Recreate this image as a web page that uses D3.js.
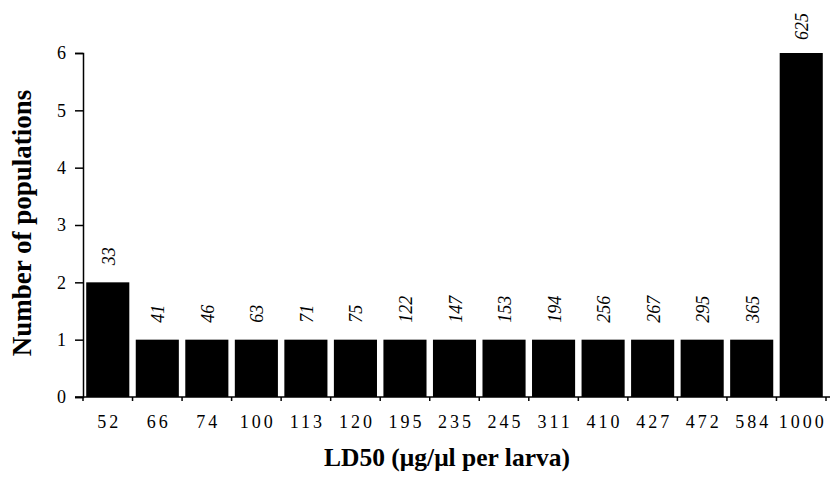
<!DOCTYPE html>
<html><head><meta charset="utf-8">
<script src="https://cdn.jsdelivr.net/npm/d3@7"></script>
<style>
body{margin:0;background:#fff;}
text{font-family:"Liberation Serif","Times New Roman",serif;fill:#000;}
</style></head>
<body><svg id="c" width="831" height="484"></svg>
<script>
const categories = ["52","66","74","100","113","120","195","235","245","311","410","427","472","584","1000"];
const counts = [2,1,1,1,1,1,1,1,1,1,1,1,1,1,6];
const barLabels = ["33","41","46","63","71","75","122","147","153","194","256","267","295","365","625"];
const yTicks = [0,1,2,3,4,5,6];

(function(){
const svg = d3.select("#c");
const mLeft = 83, mRight = 826, mTop = 53, mBottom = 397;
const x = d3.scaleBand().domain(categories).range([mLeft, mRight]).paddingInner(0.13).paddingOuter(0.065);
const y = d3.scaleLinear().domain([0,6]).range([mBottom, mTop]);

// bars
svg.selectAll("rect.bar").data(categories).enter().append("rect")
  .attr("x", d => x(d)).attr("width", x.bandwidth())
  .attr("y", (d,i) => y(counts[i])).attr("height", (d,i) => y(0) - y(counts[i]))
  .attr("fill", "#000");

// bar labels (rotated italic)
svg.selectAll("text.bl").data(categories).enter().append("text")
  .attr("transform", (d,i) => `translate(${x(d) + x.bandwidth()/2 + 7},${y(counts[i]) - (i===14 ? 13 : 17)}) rotate(-90)`)
  .attr("font-style", "italic").attr("font-size", 18)
  .text((d,i) => barLabels[i]);

// y axis
const yAxis = svg.append("g").attr("transform", `translate(${mLeft},0)`)
  .call(d3.axisLeft(y).tickValues(yTicks).tickFormat(d3.format("d")).tickSize(8).tickPadding(9));
yAxis.selectAll("text").attr("font-size", 18).style("font-family", '"Liberation Serif",serif');
yAxis.select(".domain").attr("stroke-width", 1.5);
yAxis.selectAll(".tick line").attr("stroke-width", 1.5);

// x axis
const edges = categories.map(c => x(c) - x.step()*x.paddingInner()/2).concat([mRight]);
svg.append("line").attr("x1", mLeft - 8).attr("x2", 830).attr("y1", y(0)).attr("y2", y(0))
  .attr("stroke", "#000").attr("stroke-width", 1.5);
svg.selectAll("line.xt").data(edges).enter().append("line")
  .attr("x1", d => d).attr("x2", d => d).attr("y1", y(0)).attr("y2", y(0) + 4)
  .attr("stroke", "#000").attr("stroke-width", 1.5);
svg.selectAll("text.xl").data(categories).enter().append("text")
  .attr("x", d => x(d) + x.bandwidth()/2 + 1.5).attr("y", 428)
  .attr("text-anchor", "middle").attr("font-size", 18).style("letter-spacing", "3px")
  .text(d => d);

// titles
svg.append("text").attr("transform", "translate(31,223) rotate(-90)")
  .attr("text-anchor", "middle").attr("font-weight", "bold").attr("font-size", 27)
  .text("Number of populations");
svg.append("text").attr("x", 447).attr("y", 466)
  .attr("text-anchor", "middle").attr("font-weight", "bold").attr("font-size", 25.5)
  .text("LD50 (μg/μl per larva)");
})();
</script></body></html>
